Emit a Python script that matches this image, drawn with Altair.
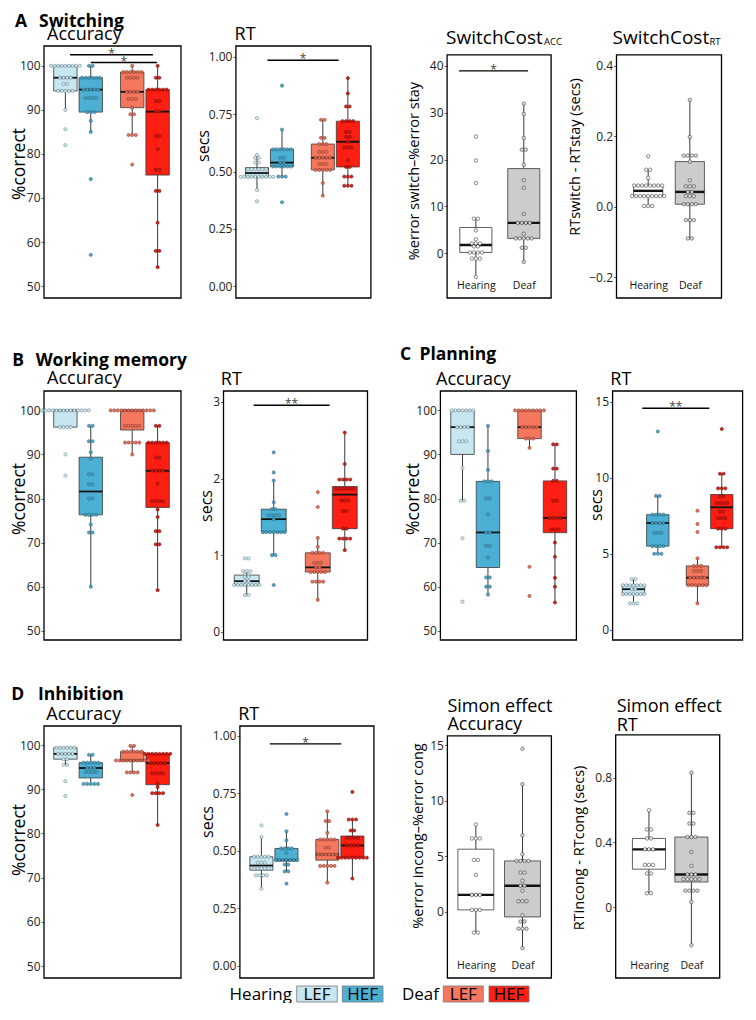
import altair as alt
import pandas as pd

FONT = "Open Sans"

# ---------------- data ----------------
GROUPS4 = ["Hearing LEF", "Hearing HEF", "Deaf LEF", "Deaf HEF"]
GROUPS2 = ["Hearing", "Deaf"]

# A. Switching - accuracy (%correct)
SW_ACC_HEAR_LEF = [100, 100, 100, 100, 100, 100, 100, 100, 100, 97.3, 97.3, 97.3, 97.3, 95.9, 95.9, 94.3, 94.3, 94.3, 94.3, 94.3, 90.0, 85.6, 82.0]
SW_ACC_HEAR_HEF = [100, 100, 97.3, 97.3, 97.3, 97.3, 97.3, 97.3, 94.6, 94.6, 94.6, 94.6, 94.6, 92.7, 92.7, 92.7, 92.7, 89.5, 89.5, 89.5, 87.5, 85.0, 74.3, 57.1]
SW_ACC_DEAF_LEF = [100, 98.6, 98.6, 98.6, 98.6, 98.6, 98.6, 97.3, 97.3, 97.3, 97.3, 94.1, 94.1, 94.1, 94.1, 92.5, 92.5, 92.5, 90.5, 89.0, 89.0, 84.3, 84.3, 84.3, 77.6]
SW_ACC_DEAF_HEF = [100, 97.3, 97.3, 94.6, 94.6, 94.6, 94.6, 94.6, 94.6, 92.0, 92.0, 89.6, 89.6, 84.1, 84.1, 81.1, 76.4, 76.4, 71.6, 71.6, 64.4, 58.0, 58.0, 54.3]
# A. Switching - RT (secs)
SW_RT_HEAR_LEF = [0.733, 0.572, 0.56, 0.56, 0.539, 0.539, 0.51, 0.51, 0.51, 0.51, 0.51, 0.51, 0.477, 0.477, 0.477, 0.477, 0.477, 0.477, 0.477, 0.477, 0.477, 0.477, 0.42, 0.37]
SW_RT_HEAR_HEF = [0.875, 0.683, 0.597, 0.597, 0.597, 0.597, 0.597, 0.597, 0.56, 0.56, 0.539, 0.539, 0.522, 0.522, 0.522, 0.522, 0.522, 0.522, 0.478, 0.478, 0.478, 0.366]
SW_RT_DEAF_LEF = [0.726, 0.726, 0.647, 0.647, 0.62, 0.62, 0.62, 0.586, 0.586, 0.586, 0.56, 0.56, 0.56, 0.56, 0.56, 0.533, 0.533, 0.533, 0.507, 0.507, 0.507, 0.507, 0.507, 0.45, 0.395]
SW_RT_DEAF_HEF = [0.908, 0.841, 0.784, 0.784, 0.72, 0.72, 0.72, 0.72, 0.673, 0.673, 0.651, 0.651, 0.63, 0.605, 0.605, 0.605, 0.55, 0.52, 0.52, 0.478, 0.478, 0.478, 0.438, 0.438, 0.438]
# A. Switch cost
SWC_ACC_HEAR = [24.9, 19.8, 15.0, 7.4, 7.4, 4.9, 3.0, 2.1, 2.1, 2.1, 1.5, 1.5, 0.2, 0.2, 0.2, 0.2, -1.1, -1.1, -1.1, -5.0]
SWC_ACC_DEAF = [31.9, 29.7, 24.6, 22.1, 22.1, 18.9, 15.6, 14.0, 8.4, 6.5, 6.5, 6.5, 6.5, 4.2, 3.2, 3.2, 3.2, 3.2, 3.2, 1.2, 1.2, -1.8]
SWC_RT_HEAR = [0.143, 0.105, 0.105, 0.082, 0.06, 0.06, 0.06, 0.06, 0.06, 0.06, 0.06, 0.06, 0.03, 0.03, 0.03, 0.03, 0.03, 0.03, 0.03, 0.03, 0.03, 0.002, 0.002, 0.002]
SWC_RT_DEAF = [0.303, 0.198, 0.145, 0.145, 0.145, 0.145, 0.128, 0.075, 0.058, 0.058, 0.058, 0.042, 0.042, 0.03, 0.03, 0.03, 0.007, 0.007, 0.007, 0.007, -0.038, -0.038, -0.038, -0.09, -0.09]

# B. Working memory
WM_ACC_HEAR_LEF = [100, 100, 100, 100, 100, 100, 100, 100, 100, 100, 100, 100, 100, 100, 96.2, 96.2, 96.2, 96.2, 90.0, 85.2]
WM_ACC_HEAR_HEF = [96.5, 96.5, 93.0, 93.0, 90.5, 89.0, 85.5, 85.5, 83.2, 83.2, 80.0, 80.0, 76.3, 76.3, 76.3, 76.3, 74.1, 72.3, 72.3, 60.0]
WM_ACC_DEAF_LEF = [100, 100, 100, 100, 100, 100, 100, 100, 100, 100, 100, 100, 100, 96.5, 96.5, 96.5, 96.5, 96.5, 92.7, 92.7, 92.7, 92.7, 92.7, 90.0]
WM_ACC_DEAF_HEF = [96.5, 96.5, 92.7, 92.7, 92.7, 92.7, 92.7, 92.7, 89.3, 89.3, 86.3, 86.3, 86.3, 86.3, 83.4, 79.4, 79.4, 79.4, 79.4, 77.5, 75.8, 72.6, 72.6, 69.6, 69.6, 59.2]
WM_RT_HEAR_LEF = [0.957, 0.957, 0.79, 0.79, 0.79, 0.74, 0.74, 0.714, 0.714, 0.66, 0.66, 0.61, 0.61, 0.61, 0.61, 0.61, 0.61, 0.61, 0.61, 0.48, 0.48]
WM_RT_HEAR_HEF = [2.342, 2.08, 1.974, 1.69, 1.6, 1.6, 1.52, 1.52, 1.52, 1.52, 1.47, 1.3, 1.3, 1.3, 1.3, 1.3, 1.3, 1.3, 1.0, 1.0, 0.61]
WM_RT_DEAF_LEF = [1.823, 1.628, 1.225, 1.108, 1.03, 1.03, 1.03, 1.03, 0.9, 0.9, 0.9, 0.84, 0.84, 0.78, 0.78, 0.78, 0.78, 0.78, 0.654, 0.654, 0.654, 0.654, 0.416]
WM_RT_DEAF_HEF = [2.6, 2.19, 1.987, 1.987, 1.987, 1.987, 1.866, 1.866, 1.866, 1.866, 1.866, 1.866, 1.715, 1.715, 1.715, 1.576, 1.576, 1.346, 1.346, 1.216, 1.216, 1.216, 1.216, 1.065]

# C. Planning
PL_ACC_HEAR_LEF = [100, 100, 100, 100, 100, 100, 100, 96.2, 96.2, 96.2, 96.2, 93.0, 93.0, 93.0, 87.0, 79.5, 79.5, 71.0, 56.6]
PL_ACC_HEAR_HEF = [96.5, 90.8, 86.5, 83.9, 83.9, 83.9, 80.0, 80.0, 76.4, 72.3, 72.3, 69.3, 69.3, 66.6, 62.1, 62.1, 60.0, 60.0, 58.2]
PL_ACC_DEAF_LEF = [100, 100, 100, 100, 100, 100, 100, 100, 100, 96.2, 96.2, 96.2, 96.2, 96.2, 93.6, 93.6, 93.6, 91.5, 64.5, 57.9]
PL_ACC_DEAF_HEF = [92.3, 92.3, 86.8, 86.8, 84.0, 84.0, 79.5, 79.5, 75.6, 75.6, 75.6, 75.6, 73.0, 73.0, 73.0, 70.0, 66.8, 62.0, 60.0, 56.4]
PL_RT_HEAR_LEF = [3.33, 3.33, 2.93, 2.93, 2.93, 2.93, 2.93, 2.93, 2.93, 2.67, 2.67, 2.35, 2.35, 2.35, 2.35, 2.35, 2.35, 2.35, 1.74, 1.74, 1.74]
PL_RT_HEAR_HEF = [13.04, 8.8, 8.8, 7.57, 7.57, 7.57, 7.57, 7.02, 7.02, 7.02, 7.02, 6.37, 6.37, 6.37, 5.5, 5.5, 5.5, 5.5, 5.0, 5.0, 5.0]
PL_RT_DEAF_LEF = [7.83, 6.96, 6.43, 4.7, 4.2, 4.2, 4.2, 3.87, 3.87, 3.87, 3.43, 3.43, 3.43, 3.43, 3.43, 2.93, 2.93, 2.93, 2.93, 2.93, 2.93, 1.74]
PL_RT_DEAF_HEF = [13.2, 10.26, 10.26, 9.3, 9.3, 9.3, 8.76, 8.76, 8.33, 8.33, 8.33, 8.33, 7.78, 7.78, 7.35, 7.35, 7.35, 6.65, 6.65, 6.65, 5.43, 5.43, 5.43, 5.43]

# D. Inhibition
IN_ACC_HEAR_LEF = [99.4, 99.4, 99.4, 99.4, 99.4, 99.4, 98.0, 98.0, 98.0, 98.0, 98.0, 96.8, 96.8, 95.5, 95.5, 91.8, 88.5]
IN_ACC_HEAR_HEF = [97.8, 97.8, 96.0, 96.0, 96.0, 96.0, 96.0, 94.8, 94.8, 94.8, 93.9, 93.9, 93.9, 93.9, 91.2, 91.2, 91.2, 91.2, 91.2]
IN_ACC_DEAF_LEF = [99.8, 99.8, 98.5, 98.5, 98.5, 98.5, 98.5, 98.5, 96.5, 96.5, 96.5, 96.5, 96.5, 96.5, 96.5, 96.5, 96.5, 96.5, 93.8, 93.8, 93.8, 93.8, 88.7]
IN_ACC_DEAF_HEF = [98.0, 98.0, 98.0, 98.0, 98.0, 98.0, 98.0, 98.0, 95.9, 95.9, 95.9, 95.9, 95.9, 93.6, 93.6, 93.6, 93.6, 91.2, 90.5, 89.1, 89.1, 89.1, 89.1, 81.9]
IN_RT_HEAR_LEF = [0.61, 0.56, 0.474, 0.474, 0.474, 0.474, 0.474, 0.448, 0.448, 0.448, 0.423, 0.423, 0.423, 0.423, 0.423, 0.393, 0.393, 0.393, 0.393, 0.335]
IN_RT_HEAR_HEF = [0.66, 0.585, 0.546, 0.51, 0.51, 0.51, 0.51, 0.49, 0.46, 0.46, 0.46, 0.46, 0.46, 0.46, 0.46, 0.44, 0.44, 0.41, 0.41, 0.357]
IN_RT_DEAF_LEF = [0.672, 0.629, 0.629, 0.578, 0.549, 0.549, 0.549, 0.549, 0.549, 0.513, 0.513, 0.484, 0.484, 0.484, 0.484, 0.484, 0.484, 0.434, 0.434, 0.434, 0.434, 0.434, 0.361]
IN_RT_DEAF_HEF = [0.756, 0.636, 0.636, 0.636, 0.588, 0.588, 0.556, 0.556, 0.556, 0.556, 0.523, 0.523, 0.523, 0.523, 0.47, 0.47, 0.47, 0.47, 0.47, 0.47, 0.47, 0.47, 0.47, 0.379]
SIM_ACC_HEAR = [7.85, 6.6, 6.6, 6.6, 4.66, 4.66, 3.3, 1.5, 1.5, 1.5, 0.15, 0.15, 0.15, -1.9, -1.9]
SIM_ACC_DEAF = [14.7, 11.5, 6.87, 5.16, 4.57, 4.57, 4.57, 4.57, 3.52, 3.52, 2.78, 2.33, 2.33, 1.88, 0.93, 0.93, 0.93, -0.35, -0.9, -0.9, -1.55, -1.55, -1.55, -3.3]
SIM_RT_HEAR = [0.598, 0.48, 0.48, 0.424, 0.424, 0.357, 0.357, 0.357, 0.261, 0.261, 0.261, 0.208, 0.208, 0.086, 0.086]
SIM_RT_DEAF = [0.83, 0.582, 0.582, 0.516, 0.516, 0.433, 0.433, 0.433, 0.341, 0.255, 0.202, 0.202, 0.202, 0.173, 0.173, 0.173, 0.173, 0.173, 0.102, 0.102, 0.102, 0.102, 0.031, -0.235]

# significance bars: x start, x end, y, label
SIG_SW_ACC = ([0.88, 1.19], [2.12, 2.18], [102.5, 100.75], ["*", "*"])
SIG_SW_RT = ([0.97], [2.05], [0.986], ["*"])
SIG_SWC_ACC = ([0.65], [2.09], [38.9], ["*"])
SIG_WM_RT = ([0.906], [1.976], [2.957], ["**"])
SIG_PL_RT = ([0.947], [1.995], [14.57], ["**"])
SIG_IN_RT = ([0.938], [2.021], [0.965], ["*"])

# ---------------- styling ----------------
BOX_FILL4 = ["#c8e6f0", "#4cb0d5", "#f5775d", "#fe1e12"]
DOT_FILL4 = ["#dbeff6", "#49a7c9", "#e3705a", "#d8180f"]
DOT_STROKE4 = ["#5d7c86", "#2a6276", "#8a3a2c", "#760c07"]
BOX_FILL2 = ["#ffffff", "#cccccc"]
DOT_FILL2 = ["#ffffff", "#e2e2e2"]
DOT_STROKE2 = ["#333333", "#333333"]
C4 = [0.81, 1.19, 1.81, 2.19]
C2 = [1.0, 2.0]
RES = dict(color="independent", fill="independent", stroke="independent")
HEAD = 17.5


def txt(t, x, y, fs=18, fw="normal", angle=0, align="left"):
    return dict(t=t, x=x, y=y, fs=fs, fw=fw, angle=angle, align=align)


def rot(t, x, y, fs):
    return txt(t, x, y, fs, angle=270, align="center")


def build_points(groups, series, centers, unit_px, step_px):
    rows = []
    for g, vals, c in zip(groups, series, centers):
        counts = {}
        for v in vals:
            counts[v] = counts.get(v, 0) + 1
        seen = {}
        for v in vals:
            k = seen.get(v, 0)
            seen[v] = k + 1
            off = (k - (counts[v] - 1) / 2.0) * step_px / unit_px
            rows.append({"grp": g, "value": v, "pos": c, "xdot": c + off})
    return pd.DataFrame(rows)


def panel(series, xdom, ydom, W, H, yticks, yfmt, four=True, hw=0.175,
          frame_top=None, sig=None, texts=()):
    groups = GROUPS4 if four else GROUPS2
    centers = C4 if four else C2
    box_fill = BOX_FILL4 if four else BOX_FILL2
    dot_fill = DOT_FILL4 if four else DOT_FILL2
    dot_stroke = DOT_STROKE4 if four else DOT_STROKE2
    step_px = 3.6 if four else 4.0
    dot_size = 10 if four else 12
    med_w = 1.8 if four else 2.4
    unit_px = W / (xdom[1] - xdom[0])
    df = build_points(groups, series, centers, unit_px, step_px)
    xs = alt.Scale(domain=list(xdom), nice=False, zero=False)
    ys = alt.Scale(domain=list(ydom), nice=False, zero=False)
    if four:
        xaxis = None
    else:
        xaxis = alt.Axis(values=[1, 2], labelExpr="datum.value == 1 ? 'Hearing' : 'Deaf'",
                         title=None, domain=False, ticks=False, grid=False, offset=-18,
                         labelPadding=0, labelFontSize=10.5, labelColor="#111")
    yaxis = alt.Axis(values=yticks, format=yfmt, title=None, labelFontSize=12, labelPadding=1)

    def X(f):
        return alt.X(f, scale=xs, axis=xaxis)

    def Y(f):
        return alt.Y(f, scale=ys, axis=yaxis)

    ftop = ydom[1] if frame_top is None else frame_top
    frame = alt.Chart(pd.DataFrame({"k": [0]})).mark_rect(
        fillOpacity=0, stroke="black", strokeWidth=1.3).encode(
        x=alt.X(datum=xdom[0], type="quantitative", scale=xs, axis=xaxis),
        x2=alt.X2(datum=xdom[1]),
        y=alt.Y(datum=ydom[0], type="quantitative", scale=ys, axis=yaxis),
        y2=alt.Y2(datum=ftop))

    base = alt.Chart(df)
    stats = (base.transform_joinaggregate(q1="q1(value)", q3="q3(value)", med="median(value)", groupby=["grp"])
             .transform_calculate(lo="datum.q1 - 1.5 * (datum.q3 - datum.q1)",
                                  hi="datum.q3 + 1.5 * (datum.q3 - datum.q1)")
             .transform_filter("datum.value >= datum.lo && datum.value <= datum.hi")
             .transform_aggregate(wlo="min(value)", whi="max(value)", q1="min(q1)", q3="min(q3)",
                                  med="min(med)", pos="min(pos)", groupby=["grp"])
             .transform_calculate(xl="datum.pos - %f" % hw, xr="datum.pos + %f" % hw))
    whisk = stats.mark_rule(color="#3a3a3a", strokeWidth=1).encode(x=X("pos:Q"), y=Y("wlo:Q"), y2="whi:Q")
    box = stats.mark_rect(stroke="#3a3a3a", strokeWidth=0.8).encode(
        x=X("xl:Q"), x2="xr:Q", y=Y("q1:Q"), y2="q3:Q",
        color=alt.Color("grp:N", scale=alt.Scale(domain=groups, range=box_fill), legend=None))
    med = stats.mark_rule(color="#111111", strokeWidth=med_w).encode(x=X("xl:Q"), x2="xr:Q", y=Y("med:Q"))
    dots = base.mark_circle(size=dot_size, strokeWidth=0.6, opacity=0.95).encode(
        x=X("xdot:Q"), y=Y("value:Q"),
        fill=alt.Fill("grp:N", scale=alt.Scale(domain=groups, range=dot_fill), legend=None),
        stroke=alt.Stroke("grp:N", scale=alt.Scale(domain=groups, range=dot_stroke), legend=None))
    layers = [frame, whisk, box, med, dots]
    if sig is not None:
        sdf = pd.DataFrame({"x1": sig[0], "x2": sig[1], "y": sig[2], "lab": sig[3]})
        sb = alt.Chart(sdf)
        layers.append(sb.mark_rule(color="black", strokeWidth=1.4).encode(x=X("x1:Q"), x2="x2:Q", y=Y("y:Q")))
        layers.append(sb.transform_calculate(xm="(datum.x1 + datum.x2) / 2").mark_text(
            fontSize=12, dy=3, baseline="alphabetic", color="#444").encode(
            x=X("xm:Q"), y=Y("y:Q"), text="lab:N"))
    for d in texts:
        layers.append(alt.Chart(pd.DataFrame({"t": [d["t"]]})).mark_text(
            align=d["align"], baseline="alphabetic", fontSize=d["fs"], fontWeight=d["fw"],
            angle=d["angle"], color="black").encode(
            x=alt.value(d["x"]), y=alt.value(d["y"]), text="t:N"))
    return alt.layer(*layers).properties(width=W, height=H)


PCT = [50, 60, 70, 80, 90, 100]
SEC4 = [0, 0.25, 0.5, 0.75, 1.0]
B = "bold"

# Row A
A_acc = panel([SW_ACC_HEAR_LEF, SW_ACC_HEAR_HEF, SW_ACC_DEAF_LEF, SW_ACC_DEAF_HEF],
              (0.49, 2.54), (47.3, 104.5), 137, 252, PCT, "d", sig=SIG_SW_ACC,
              texts=[txt("A", -29, -19.5, HEAD, B), txt("Switching", -5, -19.5, HEAD, B),
                     txt("Accuracy", 3, -6), rot("%correct", -19, 118, 17.5)])
A_rt = panel([SW_RT_HEAR_LEF, SW_RT_HEAR_HEF, SW_RT_DEAF_LEF, SW_RT_DEAF_HEF],
             (0.49, 2.54), (-0.052, 1.048), 135, 252, SEC4, ".2f", sig=SIG_SW_RT,
             texts=[txt("RT", -1.3, -6), rot("secs", -27, 100, 16)])
A_sacc = panel([SWC_ACC_HEAR, SWC_ACC_DEAF], (0.4, 2.57), (-9.5, 44.2), 104, 252,
               [0, 10, 20, 30, 40], "d", four=False, hw=0.335, frame_top=42.3, sig=SIG_SWC_ACC,
               texts=[txt("SwitchCost", -1, -2, 19), txt("ACC", 97, -1, 9.5),
                      rot("%error switch\u2013%error stay", -28, 125, 14.5)])
A_srt = panel([SWC_RT_HEAR, SWC_RT_DEAF], (0.24, 2.76), (-0.259, 0.456), 105, 252,
              [-0.2, 0.0, 0.2, 0.4], ".1f", four=False, hw=0.35, frame_top=0.431,
              texts=[txt("SwitchCost", -4, -2, 19), txt("RT", 93, -1, 9.5),
                     rot("RTswitch - RTstay (secs)", -37, 111, 14.5)])

# Row B / C
B_acc = panel([WM_ACC_HEAR_LEF, WM_ACC_HEAR_HEF, WM_ACC_DEAF_LEF, WM_ACC_DEAF_HEF],
              (0.49, 2.54), (47.9, 104.4), 137, 249, PCT, "d",
              texts=[txt("B", -31.7, -25.3, HEAD, B), txt("Working memory", -8.3, -25.3, HEAD, B),
                     txt("Accuracy", 3, -7), rot("%correct", -19, 108, 17.5)])
B_rt = panel([WM_RT_HEAR_LEF, WM_RT_HEAR_HEF, WM_RT_DEAF_LEF, WM_RT_DEAF_HEF],
             (0.483, 2.51), (-0.108, 3.143), 144, 249, [0, 1, 2, 3], "d", sig=SIG_WM_RT,
             texts=[txt("RT", -2.7, -6.3), rot("secs", -11.3, 115, 16)])
C_acc = panel([PL_ACC_HEAR_LEF, PL_ACC_HEAR_HEF, PL_ACC_DEAF_LEF, PL_ACC_DEAF_HEF],
              (0.48, 2.51), (47.9, 104.4), 136, 249, PCT, "d",
              texts=[txt("C", -40.3, -31.5, HEAD, B), txt("Planning", -21, -31.5, HEAD, B),
                     txt("Accuracy", -4.3, -6), rot("%correct", -21, 108, 17.5)])
C_rt = panel([PL_RT_HEAR_LEF, PL_RT_HEAR_HEF, PL_RT_DEAF_LEF, PL_RT_DEAF_HEF],
             (0.483, 2.516), (-0.67, 15.7), 130, 249, [0, 5, 10, 15], "d", sig=SIG_PL_RT,
             texts=[txt("RT", -2.3, -6.3), rot("secs", -10.7, 114, 16)])

# Row D
D_acc = panel([IN_ACC_HEAR_LEF, IN_ACC_HEAR_HEF, IN_ACC_DEAF_LEF, IN_ACC_DEAF_HEF],
              (0.49, 2.54), (47.3, 104.3), 137, 252, PCT, "d",
              texts=[txt("D", -32.7, -26, HEAD, B), txt("Inhibition", -6, -26, HEAD, B),
                     txt("Accuracy", 2.3, -6.3), rot("%correct", -19, 114, 17.5)])
D_rt = panel([IN_RT_HEAR_LEF, IN_RT_HEAR_HEF, IN_RT_DEAF_LEF, IN_RT_DEAF_HEF],
             (0.484, 2.516), (-0.054, 1.043), 134, 252, SEC4, ".2f", sig=SIG_IN_RT,
             texts=[txt("RT", -1.7, -6), rot("secs", -26.7, 96, 16)])
S_acc = panel([SIM_ACC_HEAR, SIM_ACC_DEAF], (0.39, 2.62), (-6.0, 16.75), 104, 252,
              [0, 5, 10, 15], "d", four=False, hw=0.385, frame_top=15.85,
              texts=[txt("Simon effect", 0, -14), txt("Accuracy", 0, 4.3),
                     rot("%error incong\u2013%error cong", -24.3, 110, 14.5)])
S_rt = panel([SIM_RT_HEAR, SIM_RT_DEAF], (0.216, 2.667), (-0.437, 1.118), 104, 252,
             [0, 0.4, 0.8], "~g", four=False, hw=0.39, frame_top=1.063,
             texts=[txt("Simon effect", 1, -14), txt("RT", 1, 5),
                    rot("RTincong - RTcong (secs)", -31.3, 122, 14.5)])

# Legend row (its origin lines up with the left edge of the panel frames)
LEG_H = 16
LEG_BOX_LABELS = ["LEF", "HEF", "LEF", "HEF"]
LEG_GROUP_LABELS = ["Hearing", "Deaf"]
leg_boxes = pd.DataFrame({"lab": LEG_BOX_LABELS, "grp": GROUPS4,
                          "x1": [252.7, 298.3, 399.3, 445.0], "x2": [293.3, 339.0, 439.3, 485.0]})
leg_texts = pd.DataFrame({"lab": LEG_GROUP_LABELS, "x": [248.0, 395.0]})
lx = alt.Scale(domain=[0, 490], nice=False, zero=False)
lb = alt.Chart(leg_boxes).mark_rect(stroke="#777777", strokeWidth=0.8).encode(
    x=alt.X("x1:Q", scale=lx, axis=None), x2="x2:Q", y=alt.value(0), y2=alt.value(LEG_H),
    color=alt.Color("grp:N", scale=alt.Scale(domain=GROUPS4, range=BOX_FILL4), legend=None))
lbt = alt.Chart(leg_boxes).transform_calculate(xm="(datum.x1 + datum.x2) / 2").mark_text(
    fontSize=17, baseline="middle", color="black").encode(
    x=alt.X("xm:Q", scale=lx, axis=None), y=alt.value(LEG_H / 2 + 1), text="lab:N")
lt = alt.Chart(leg_texts).mark_text(fontSize=17, align="right", baseline="middle", color="black").encode(
    x=alt.X("x:Q", scale=lx, axis=None), y=alt.value(LEG_H / 2 + 1), text="lab:N")
legend = alt.layer(lb, lbt, lt).properties(width=490, height=LEG_H)


def hc(*charts, spacing):
    return alt.hconcat(*charts, spacing=spacing).resolve_scale(**RES)


def vc(*charts, spacing):
    return alt.vconcat(*charts, spacing=spacing).resolve_scale(**RES)


rowA = hc(hc(A_acc, A_rt, spacing=13.9), hc(A_sacc, A_srt, spacing=4.4), spacing=34.1)
rowBC = hc(hc(B_acc, B_rt, spacing=11.5), hc(C_acc, C_rt, spacing=11.2), spacing=30.4)
rowD = hc(hc(D_acc, D_rt, spacing=17.9), hc(S_acc, S_rt, spacing=19.3), spacing=35.4)

chart = vc(
    vc(rowA, rowBC, spacing=46),
    vc(rowD, legend, spacing=6),
    spacing=45,
).properties(
    padding={"left": 3, "top": 4, "right": 0, "bottom": 0}
).configure(font=FONT).configure_view(strokeOpacity=0).configure_axis(
    grid=False, domain=False, tickColor="#444444", tickSize=3, tickWidth=0.8,
    labelColor="#222222", titleColor="black", titleFontWeight="normal"
)

chart.save("out.html", embed_options={"renderer": "svg", "actions": False})
